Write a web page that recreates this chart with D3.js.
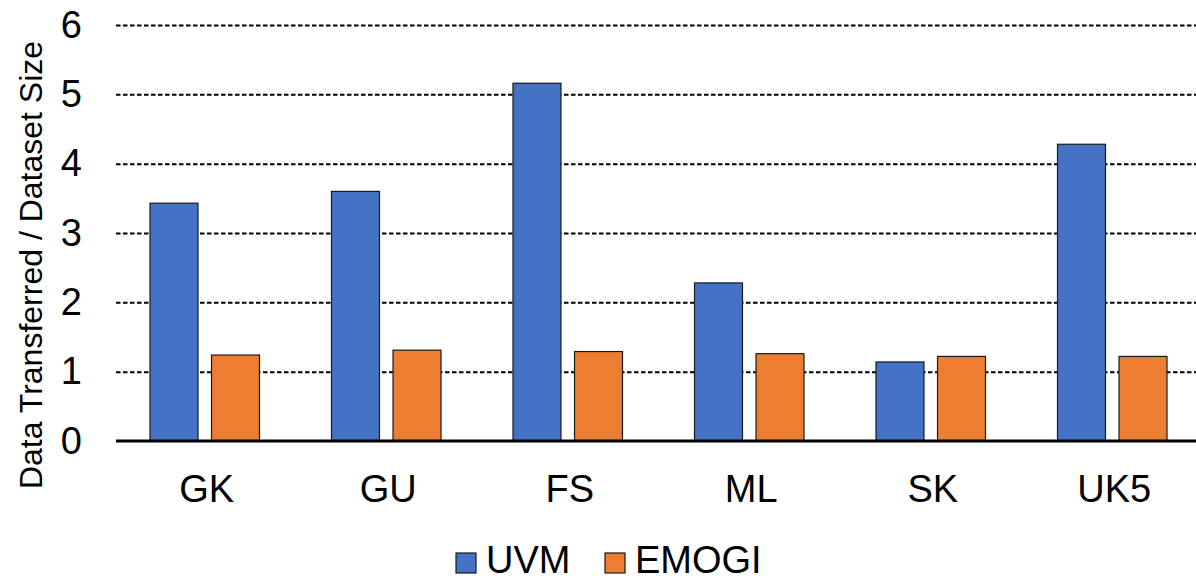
<!DOCTYPE html>
<html>
<head>
<meta charset="utf-8">
<script src="https://cdn.jsdelivr.net/npm/d3@7"></script>
<style>
  body { margin: 0; background: #fff; }
  svg { display: block; font-family: Arial, "Liberation Sans", sans-serif; }
</style>
</head>
<body>
<div id="chart"></div>
<script>
// Datos del gráfico
var categorias = ["GK", "GU", "FS", "ML", "SK", "UK5"];
var series = ["UVM", "EMOGI"];
var valoresUVM = [3.43, 3.60, 5.16, 2.28, 1.14, 4.28];
var valoresEMOGI = [1.24, 1.31, 1.29, 1.26, 1.22, 1.22];
var ticksY = [0, 1, 2, 3, 4, 5, 6];
var colores = ["#4472C4", "#ED7D31"];

// Lienzo
var svgWidth = 1196, svgHeight = 582;
var plotLeft = 116, plotRight = 1196;
var plotTop = 25, plotBottom = 441;

var svg = d3.select("#chart")
  .append("svg")
    .attr("width", svgWidth)
    .attr("height", svgHeight);

// Escalas
var x0 = d3.scaleBand()
    .domain(categorias)
    .range([114, 1203]);

var x1 = d3.scaleBand()
    .domain(series)
    .range([36, x0.bandwidth() - 36])
    .paddingInner(0.22);

var y = d3.scaleLinear()
    .domain([0, 6])
    .range([plotBottom, plotTop]);

// Líneas de cuadrícula discontinuas
var grid = svg.append("g")
    .attr("transform", "translate(" + plotLeft + ",0)")
    .call(d3.axisLeft(y).tickValues(ticksY.filter(function(d) { return d > 0; }))
      .tickSize(-(plotRight - plotLeft)).tickFormat(""));
grid.select(".domain").remove();
grid.selectAll("line")
    .attr("stroke", "#000")
    .attr("stroke-width", 2)
    .attr("stroke-dasharray", "4.5,2.5");

// Filas de datos por categoría
var filas = categorias.map(function(c, i) {
  return { cat: c, valores: [valoresUVM[i], valoresEMOGI[i]] };
});

var grupos = svg.selectAll(".grupo")
  .data(filas)
  .enter().append("g")
    .attr("class", "grupo")
    .attr("transform", function(d) { return "translate(" + x0(d.cat) + ",0)"; });

grupos.selectAll("rect")
  .data(function(d) { return d.valores.map(function(v, j) { return { s: series[j], v: v, j: j }; }); })
  .enter().append("rect")
    .attr("x", function(d) { return x1(d.s); })
    .attr("y", function(d) { return y(d.v); })
    .attr("width", x1.bandwidth())
    .attr("height", function(d) { return y(0) - y(d.v); })
    .attr("fill", function(d) { return colores[d.j]; })
    .attr("stroke", "#1a1a1a")
    .attr("stroke-width", 1.2);

// Línea base
svg.append("line")
    .attr("x1", plotLeft)
    .attr("x2", plotRight)
    .attr("y1", y(0))
    .attr("y2", y(0))
    .attr("stroke", "#000")
    .attr("stroke-width", 3);

// Eje Y (solo etiquetas)
var ejeY = svg.append("g")
    .attr("transform", "translate(" + plotLeft + ",0)")
    .call(d3.axisLeft(y).tickValues(ticksY).tickFormat(d3.format("d")).tickSize(0).tickPadding(34));
ejeY.select(".domain").remove();
ejeY.selectAll("text")
    .style("font-size", "38px")
    .style("font-family", "Arial, 'Liberation Sans', sans-serif")
    .attr("fill", "#000");

// Eje X (categorías)
var ejeX = svg.append("g")
    .attr("transform", "translate(2," + plotBottom + ")")
    .call(d3.axisBottom(x0).tickSize(0).tickPadding(34));
ejeX.select(".domain").remove();
ejeX.selectAll("text")
    .style("font-size", "38px")
    .style("font-family", "Arial, 'Liberation Sans', sans-serif")
    .attr("fill", "#000");

// Título del eje Y
svg.append("text")
    .attr("transform", "rotate(-90)")
    .attr("x", -265)
    .attr("y", 42)
    .attr("text-anchor", "middle")
    .style("font-size", "32px")
    .attr("fill", "#000")
    .text("Data Transferred / Dataset Size");

// Leyenda
var leyendaX = [456, 605];
var leyenda = svg.selectAll(".leyenda")
  .data(series)
  .enter().append("g")
    .attr("class", "leyenda")
    .attr("transform", function(d, i) { return "translate(" + leyendaX[i] + ",553)"; });

leyenda.append("rect")
    .attr("width", 20)
    .attr("height", 20)
    .attr("fill", function(d, i) { return colores[i]; })
    .attr("stroke", "#1a1a1a")
    .attr("stroke-width", 1.2);

leyenda.append("text")
    .attr("x", 30)
    .attr("y", 20)
    .style("font-size", "38px")
    .attr("fill", "#000")
    .text(function(d) { return d; });
</script>
</body>
</html>
